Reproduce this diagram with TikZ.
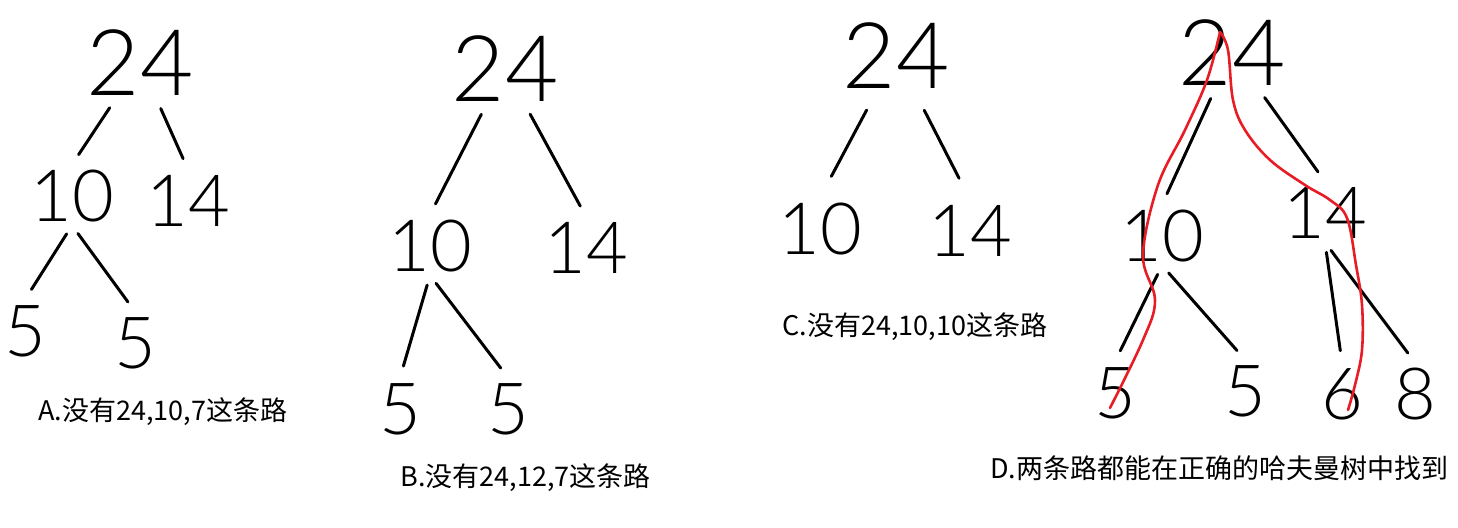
\documentclass[tikz,border=0pt]{standalone}
\usepackage{fontspec}
\setmainfont{Noto Sans CJK SC}
\newfontfamily\numfont{Lato}[UprightFont={* Light}]
\definecolor{pathred}{RGB}{232,28,36}
\begin{document}
\begin{tikzpicture}[x=0.5pt, y=-0.5pt,
    num/.style={font=\numfont\fontsize{36}{36}\selectfont, inner sep=2pt, text height=26pt, text depth=0pt},
    rootnum/.style={num, font=\numfont\fontsize{46}{46}\selectfont, text height=33pt},
    edge/.style={line width=1.5pt, line cap=round, shorten <=5pt, shorten >=6pt},
    hlpath/.style={pathred, line width=1.3pt, line cap=round, line join=round},
    caption/.style={font=\fontsize{13.5}{16}\selectfont, inner sep=0pt, anchor=west}]
    \useasboundingbox (0,0) rectangle (1458,527);

    % 树A
    \node[rootnum] (A24) at (140,62) {24};
    \node[num] (A10) at (72,195) {10};
    \node[num] (A14) at (188,200) {14};
    \node[num] (A5a) at (25,330) {5};
    \node[num] (A5b) at (135,342) {5};
    \draw[edge] (A24) -- (A10.north);
    \draw[edge] (A24) -- (A14.north);
    \draw[edge] (A10.south) -- (A5a.north);
    \draw[edge] (A10.south) -- (A5b.north);
    \node[caption] (capA) at (38,412) {A.没有24,10,7这条路};

    % 树B
    \node[rootnum] (B24) at (505,68) {24};
    \node[num] (B10) at (430,245) {10};
    \node[num] (B14) at (586,247) {14};
    \node[num] (B5a) at (400,408) {5};
    \node[num] (B5b) at (508,408) {5};
    \draw[edge] (B24) -- (B10.north);
    \draw[edge] (B24) -- (B14.north);
    \draw[edge] (B10.south) -- (B5a.north);
    \draw[edge] (B10.south) -- (B5b.north);
    \node[caption] (capB) at (400,478) {B.没有24,12,7这条路};

    % 树C
    \node[rootnum] (C24) at (896,55) {24};
    \node[num] (C10) at (820,228) {10};
    \node[num] (C14) at (970,230) {14};
    \draw[edge, shorten <=10pt, shorten >=12pt] (C24) -- (C10.north);
    \draw[edge, shorten <=10pt, shorten >=12pt] (C24) -- (C14.north);
    \node[caption] (capC) at (782,327) {C.没有24,10,10这条路};

    % 树D
    \node[rootnum] (D24) at (1232,52) {24};
    \node[num] (D10) at (1162,235) {10};
    \node[num] (D14) at (1325,212) {14};
    \node[num] (D5a) at (1115,392) {5};
    \node[num] (D5b) at (1245,390) {5};
    \node[num] (D6) at (1342,393) {6};
    \node[num] (D8) at (1415,393) {8};
    \draw[edge] (D24) -- (D10.north);
    \draw[edge] (D24) -- (D14.north);
    \draw[edge] (D10.south) -- (D5a.north);
    \draw[edge] (D10.south) -- (D5b.north);
    \draw[edge] (D14.south) -- (D6.north);
    \draw[edge] (D14.south) -- (D8.north);
    \node[caption] (capD) at (990,468) {D.两条路都能在正确的哈夫曼树中找到};

    % 红色路径
    \coordinate (Dtop) at (1220,32);
    \draw[hlpath] plot[smooth, tension=0.6] coordinates {(Dtop) (1207,80) (1185,130) (1158,185) (1143,255) (1155,300) (1143,340) (1110,408)};
    \draw[hlpath] plot[smooth, tension=0.6] coordinates {(Dtop) (1228,50) (1233,100) (1245,130) (1270,160) (1305,185) (1330,200) (1347,218) (1356,265) (1362,305) (1362,350) (1355,385) (1348,410)};
\end{tikzpicture}
\end{document}
